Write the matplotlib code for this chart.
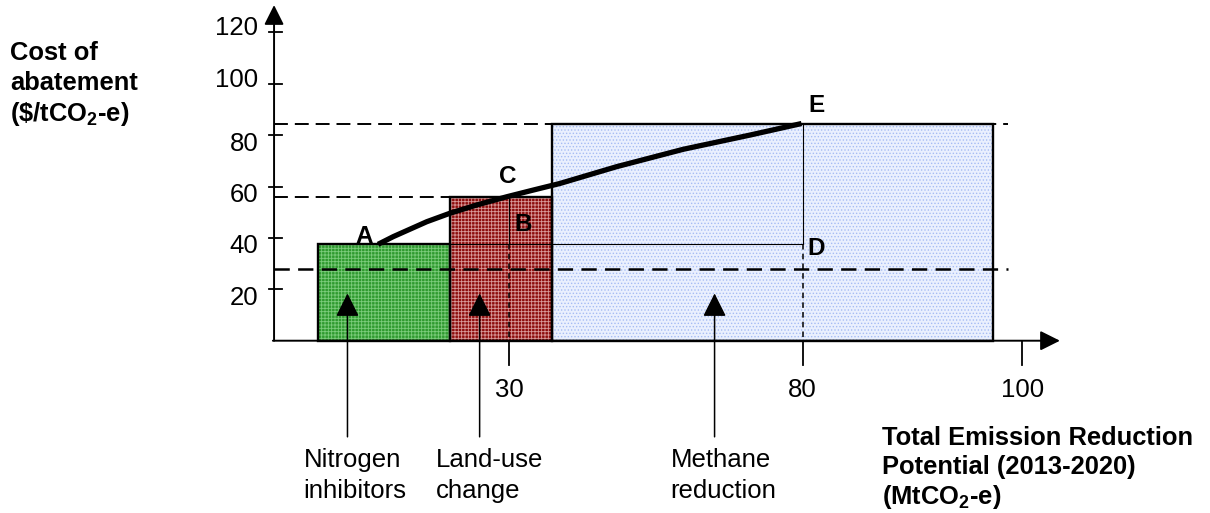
#! /usr/bin/env python
#
# marginal abatement cost curve, schematic version

import matplotlib
matplotlib.use("Agg")
import matplotlib.pyplot as plt

plt.rcParams['font.family'] = ['Liberation Sans', 'DejaVu Sans']
plt.rcParams['mathtext.fontset'] = 'custom'
plt.rcParams['mathtext.rm'] = 'Liberation Sans'
plt.rcParams['mathtext.bf'] = 'Liberation Sans:bold'
plt.rcParams['lines.scale_dashes'] = False
plt.rcParams['hatch.linewidth'] = 0.6


# abatement options: left edge, width and cost of each block
options   = ["Nitrogen\ninhibitors", "Land-use\nchange", "Methane\nreduction"]
opt_left  = [-2.5, 20.0, 37.4]
opt_width = [22.5, 17.4, 75.0]
opt_cost  = [37.5, 56.0, 84.5]
opt_arrow = [2.5, 25.0, 65.0]     # where the label arrows point up
opt_face  = ['#2f9a2f', '#8c0c0c', '#eaf0fe']
opt_hatch = ['#7ccc7c', '#d99a9a', '#a6bcf4']
opt_pat   = ['+++++', '+++++', '.....']

# cost curve from A to E
curve_x = [7.7, 10.3, 16.0, 19.95, 24.5, 29.6, 34.1, 38.7, 48.3, 59.7, 71.0, 79.8]
curve_y = [37.5, 40.5, 46.3, 49.6, 52.8, 56.0, 58.6, 61.2, 67.7, 74.5, 80.0, 84.5]

carbon_price = 28.0

yticks  = [20, 40, 60, 80, 100, 120]
xticks  = [30, 80, 117.4]
xlabels = ["30", "80", "100"]

# point labels
pts   = ["A", "B", "C", "D", "E"]
pts_x = [5.4, 32.4, 29.8, 82.3, 82.3]
pts_y = [37.9, 42.8, 61.5, 33.3, 89.1]

fs = 18.5

fig = plt.figure(figsize=(12.1, 5.13), dpi=100)
ax = fig.add_axes([0, 0, 1, 1])
ax.set_xlim(-56.66, 149.35)
ax.set_ylim(-67.04, 132.57)
ax.axis('off')

x0 = -10.0
xend = 114.9

# dashed guides behind the blocks
ax.plot([x0, xend], [opt_cost[2], opt_cost[2]], color='k', lw=1.4, dashes=(10, 5), zorder=1)
ax.plot([x0, opt_left[1]], [opt_cost[1], opt_cost[1]], color='k', lw=1.4, dashes=(10, 5), zorder=1)

# blocks: textured fill then black outline
for l, w, c, fc, hc, pat in zip(opt_left, opt_width, opt_cost, opt_face, opt_hatch, opt_pat):
    ax.bar(l, c, width=w, align='edge', color=fc, edgecolor=hc,
           linewidth=0, hatch=pat, zorder=2)
ax.bar(opt_left, opt_cost, width=opt_width, align='edge', fill=False,
       edgecolor='k', linewidth=1.7, zorder=2.5)

# thin construction lines
ax.plot([opt_left[1], 80], [opt_cost[0], opt_cost[0]], color='k', lw=0.8, zorder=3)
ax.plot([30, 30], [opt_cost[1], opt_cost[0]], color='k', lw=0.8, zorder=3)
ax.plot([80, 80], [opt_cost[2], opt_cost[0]], color='k', lw=0.8, zorder=3)
ax.plot([30, 30], [opt_cost[0], 0], color='k', lw=1.1, dashes=(4, 3), zorder=3)
ax.plot([80, 80], [opt_cost[0], 0], color='k', lw=1.1, dashes=(4, 3), zorder=3)

# carbon price line
ax.plot([x0, xend], [carbon_price, carbon_price], color='k', lw=1.8, dashes=(11, 6), zorder=3)

# cost curve
ax.plot(curve_x, curve_y, color='k', lw=3.8, solid_capstyle='butt', zorder=4)

# axes with arrows
arr = dict(arrowstyle='-|>,head_length=0.4,head_width=0.2', lw=1.4, color='k',
           mutation_scale=30, shrinkA=0, shrinkB=0)
ax.annotate('', xy=(x0, 130.6), xytext=(x0, 0), arrowprops=arr, zorder=5)
ax.annotate('', xy=(123.8, 0), xytext=(x0 - 0.2, 0), arrowprops=arr, zorder=5)

for v in yticks:
    ax.plot([x0 - 0.8, x0 + 1.3], [v, v], color='k', lw=1.3, zorder=5)
    dy = 1.2 if v >= 100 else 6.0
    ax.text(-12.7, v - dy, str(v), ha='right', va='baseline', fontsize=fs)

for x, lab in zip(xticks, xlabels):
    ax.plot([x, x], [0, -9.6], color='k', lw=1.3, zorder=5)
    ax.text(x, -21.8, lab, ha='center', va='baseline', fontsize=fs)

# option labels with arrows
arr2 = dict(arrowstyle='-|>,head_length=0.4,head_width=0.2', lw=1.1, color='k',
            mutation_scale=36, shrinkA=0, shrinkB=0)
for name, xa in zip(options, opt_arrow):
    ax.annotate('', xy=(xa, 18.4), xytext=(xa, -37.4), arrowprops=arr2, zorder=5)
    l1, l2 = name.split("\n")
    ax.text(xa - 7.5, -49.3, l1, ha='left', va='baseline', fontsize=fs)
    ax.text(xa - 7.5, -61.3, l2, ha='left', va='baseline', fontsize=fs)

for p, px, py in zip(pts, pts_x, pts_y):
    ax.text(px, py, p, ha='center', va='baseline', fontsize=17.5, fontweight='bold', zorder=6)

# axis titles
ytitle = ["Cost of", "abatement", r"(\$/tCO$_\mathbf{2}$-e)"]
for i, s in enumerate(ytitle):
    ax.text(-54.95, 109.2 - 11.8 * i, s, ha='left', va='baseline',
            fontsize=18.4, fontweight='bold')

xtitle = ["Total Emission Reduction", "Potential (2013-2020)", r"(MtCO$_\mathbf{2}$-e)"]
for i, s in enumerate(xtitle):
    ax.text(93.5, -40.6 - 11.45 * i, s, ha='left', va='baseline',
            fontsize=18.4, fontweight='bold')

fig.savefig("out.png", dpi=100)
